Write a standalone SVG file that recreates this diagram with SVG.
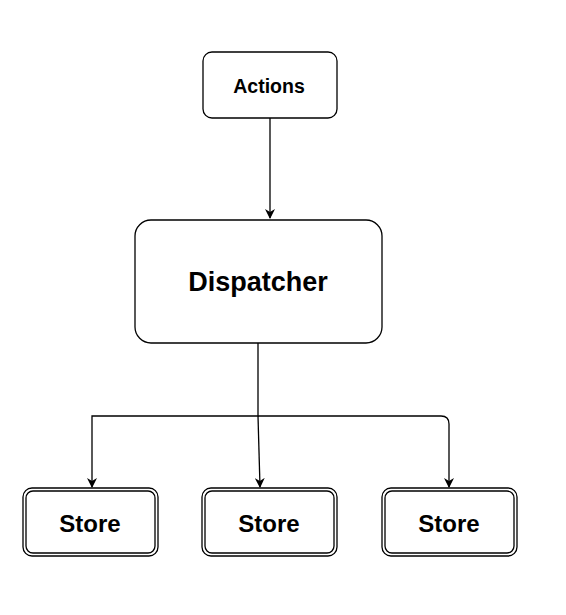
<svg xmlns="http://www.w3.org/2000/svg" width="566" height="615" viewBox="0 0 566 615">
<defs>
<marker id="arr" viewBox="0 0 10 10" refX="9" refY="5" markerWidth="10" markerHeight="10" markerUnits="userSpaceOnUse" orient="auto">
<path d="M0,0 L10,5 L0,10 L3,5 Z" fill="#000"/>
</marker>
<style>
.box{fill:#fff;stroke:#000;stroke-width:1.3}
.edge{fill:none;stroke:#000;stroke-width:1.3}
.lbl{font-family:"Liberation Sans",Arial,sans-serif;font-weight:bold;fill:#000;text-anchor:middle;dominant-baseline:central}
</style>
</defs>
<rect width="566" height="615" fill="#fff"/>
<g id="connectors">
<path class="edge" d="M270,118 L270,218" marker-end="url(#arr)"/>
<path class="edge" d="M258,343 L258,416 L92,416 L92,487" marker-end="url(#arr)"/>
<path class="edge" d="M258,416 L260,487" marker-end="url(#arr)"/>
<path class="edge" d="M258,416 L441,416 Q449,416 449,424 L449,487" marker-end="url(#arr)"/>
</g>
<g id="actions">
<rect class="box" x="203" y="52" width="134" height="66" rx="9"/>
<text class="lbl" x="269" y="86" font-size="19.5">Actions</text>
</g>
<g id="dispatcher">
<rect class="box" x="135" y="220" width="247" height="123" rx="16"/>
<text class="lbl" x="258" y="282" font-size="27">Dispatcher</text>
</g>
<g id="store1">
<rect class="box" x="23" y="488" width="135" height="68" rx="9"/>
<rect class="box" x="26" y="491" width="129" height="62" rx="7"/>
<text class="lbl" x="90" y="523" font-size="24">Store</text>
</g>
<g id="store2">
<rect class="box" x="202" y="488" width="135" height="68" rx="9"/>
<rect class="box" x="205" y="491" width="129" height="62" rx="7"/>
<text class="lbl" x="269" y="523" font-size="24">Store</text>
</g>
<g id="store3">
<rect class="box" x="382" y="488" width="135" height="68" rx="9"/>
<rect class="box" x="385" y="491" width="129" height="62" rx="7"/>
<text class="lbl" x="449" y="523" font-size="24">Store</text>
</g>
</svg>
